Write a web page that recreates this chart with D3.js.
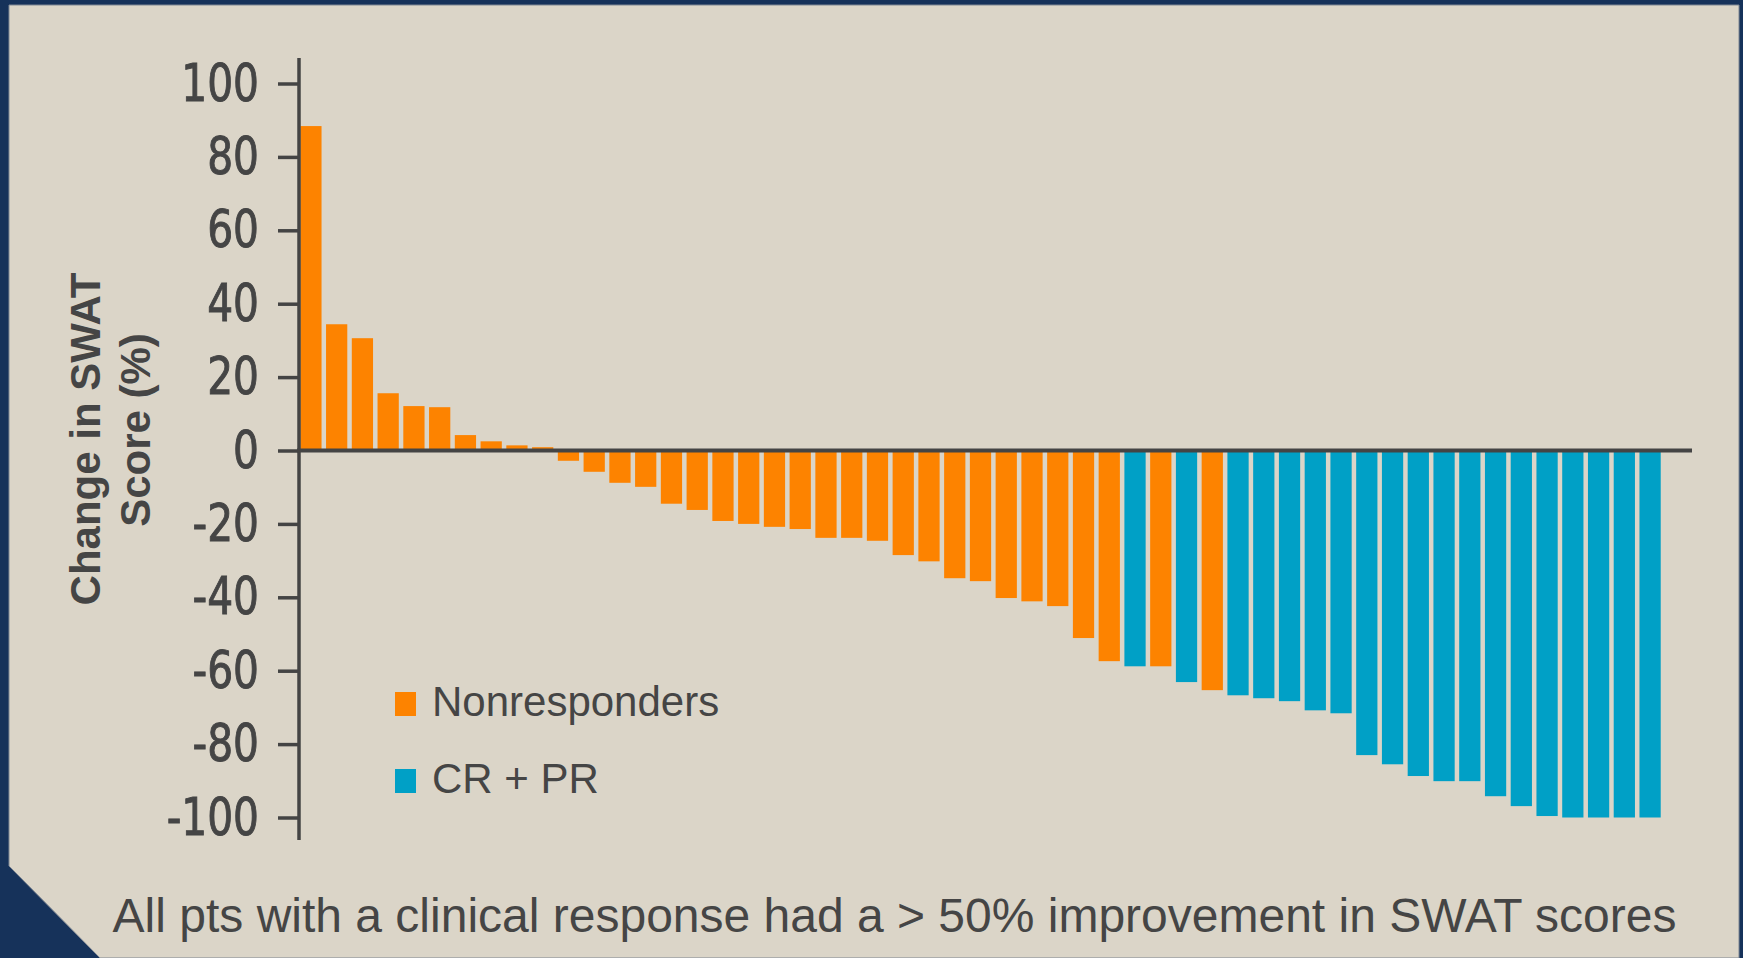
<!DOCTYPE html>
<html>
<head>
<meta charset="utf-8">
<script src="https://cdn.jsdelivr.net/npm/d3@7"></script>
<style>
  html, body { margin: 0; padding: 0; background: #16325a; }
  svg { display: block; }
</style>
</head>
<body>
<div id="chart"></div>
<script>
// change in SWAT score per patient, sorted (%)
const changes = [
  88.4, 34.4, 30.6, 15.6, 12.1, 11.8, 4.2, 2.5, 1.4, 0.9,
  -2.8, -5.8, -8.8, -9.9, -14.5, -16.2, -19.2, -20.0, -20.8, -21.4,
  -23.8, -23.8, -24.6, -28.5, -30.2, -34.8, -35.6, -40.2, -41.1, -42.4,
  -51.1, -57.4, -58.8, -58.8, -63.1, -65.3, -66.7, -67.5, -68.3, -70.8,
  -71.6, -83.0, -85.5, -88.7, -90.1, -90.1, -94.2, -96.9, -99.6, -100,
  -100, -100, -100
];

// response group per patient: N = nonresponder, R = CR + PR
const groups = [
  "N","N","N","N","N","N","N","N","N","N",
  "N","N","N","N","N","N","N","N","N","N",
  "N","N","N","N","N","N","N","N","N","N",
  "N","N","R","N","R","N","R","R","R","R",
  "R","R","R","R","R","R","R","R","R","R",
  "R","R","R"
];

const yTicks = [100, 80, 60, 40, 20, 0, -20, -40, -60, -80, -100];

const legendItems = [
  {key: "N", label: "Nonresponders"},
  {key: "R", label: "CR + PR"}
];

const caption = "All pts with a clinical response had a > 50% improvement in SWAT scores";

const data = changes.map((v, i) => ({id: i, value: v, group: groups[i]}));

const width = 1743;
const height = 958;
const textColor = "#454545";
const axisColor = "#444444";

const color = d3.scaleOrdinal()
  .domain(["N", "R"])
  .range(["#fd8300", "#00a0c6"]);

const svg = d3.select("#chart")
  .append("svg")
  .attr("width", width)
  .attr("height", height);

// navy frame with beige panel and cut corner
svg.append("rect")
  .attr("width", width)
  .attr("height", height)
  .attr("fill", "#16325a");

svg.append("polygon")
  .attr("points", "9,5 1739,5 1739,958 100,958 9,866")
  .attr("fill", "#dbd5c8")
  .attr("stroke", "#7f8793")
  .attr("stroke-width", 1);

// scales
const x = d3.scaleBand()
  .domain(data.map(d => d.id))
  .range([299, 1662])
  .paddingInner(0.175)
  .paddingOuter(0.05);

const y = d3.scaleLinear()
  .domain([-100, 100])
  .range([817.5, 83.5]);

// bars
svg.append("g")
  .selectAll("rect")
  .data(data)
  .enter()
  .append("rect")
  .attr("x", d => x(d.id))
  .attr("y", d => Math.min(y(0), y(d.value)))
  .attr("width", x.bandwidth())
  .attr("height", d => Math.abs(y(d.value) - y(0)))
  .attr("fill", d => color(d.group));

// y axis, plain hyphen for negatives
const yAxis = svg.append("g")
  .attr("transform", "translate(299,0)")
  .call(d3.axisLeft(y).tickValues(yTicks).tickSize(21).tickFormat(d => String(d)));

yAxis.select(".domain").remove();
yAxis.selectAll(".tick line")
  .attr("stroke", axisColor)
  .attr("stroke-width", 3.5);

// squeeze the labels a bit so they look condensed, thicken slightly
yAxis.selectAll(".tick text")
  .attr("x", 0)
  .attr("transform", "translate(-40,0) scale(0.87,1)")
  .attr("fill", textColor)
  .attr("stroke", textColor)
  .attr("stroke-width", 0.9)
  .style("font-family", "'DejaVu Sans Condensed', 'Liberation Sans Narrow', sans-serif")
  .style("font-size", "52px");

svg.append("line")
  .attr("x1", 299)
  .attr("x2", 299)
  .attr("y1", 58)
  .attr("y2", 840)
  .attr("stroke", axisColor)
  .attr("stroke-width", 3.5);

// zero line
svg.append("line")
  .attr("x1", 297)
  .attr("x2", 1692)
  .attr("y1", y(0))
  .attr("y2", y(0))
  .attr("stroke", axisColor)
  .attr("stroke-width", 4);

// y axis title, two lines
const yTitle = svg.append("g")
  .style("font-family", "'Liberation Sans', Arial, sans-serif")
  .style("font-weight", "bold")
  .style("font-size", "42px")
  .attr("fill", textColor)
  .attr("text-anchor", "middle");

yTitle.append("text")
  .attr("transform", "translate(100,439) rotate(-90)")
  .text("Change in SWAT");

yTitle.append("text")
  .attr("transform", "translate(150,430) rotate(-90)")
  .text("Score (%)");

// legend
const legend = svg.append("g")
  .selectAll("g")
  .data(legendItems)
  .enter()
  .append("g")
  .attr("transform", (d, i) => `translate(395,${692 + i * 77})`);

legend.append("rect")
  .attr("width", 21)
  .attr("height", 24)
  .attr("fill", d => color(d.key));

legend.append("text")
  .attr("x", 37)
  .attr("y", 24)
  .attr("fill", textColor)
  .style("font-family", "'Liberation Sans', Arial, sans-serif")
  .style("font-size", "42px")
  .text(d => d.label);

// caption at bottom
svg.append("text")
  .attr("x", 894.5)
  .attr("y", 932)
  .attr("text-anchor", "middle")
  .attr("fill", textColor)
  .style("font-family", "'Liberation Sans', Arial, sans-serif")
  .style("font-size", "48px")
  .text(caption);
</script>
</body>
</html>
